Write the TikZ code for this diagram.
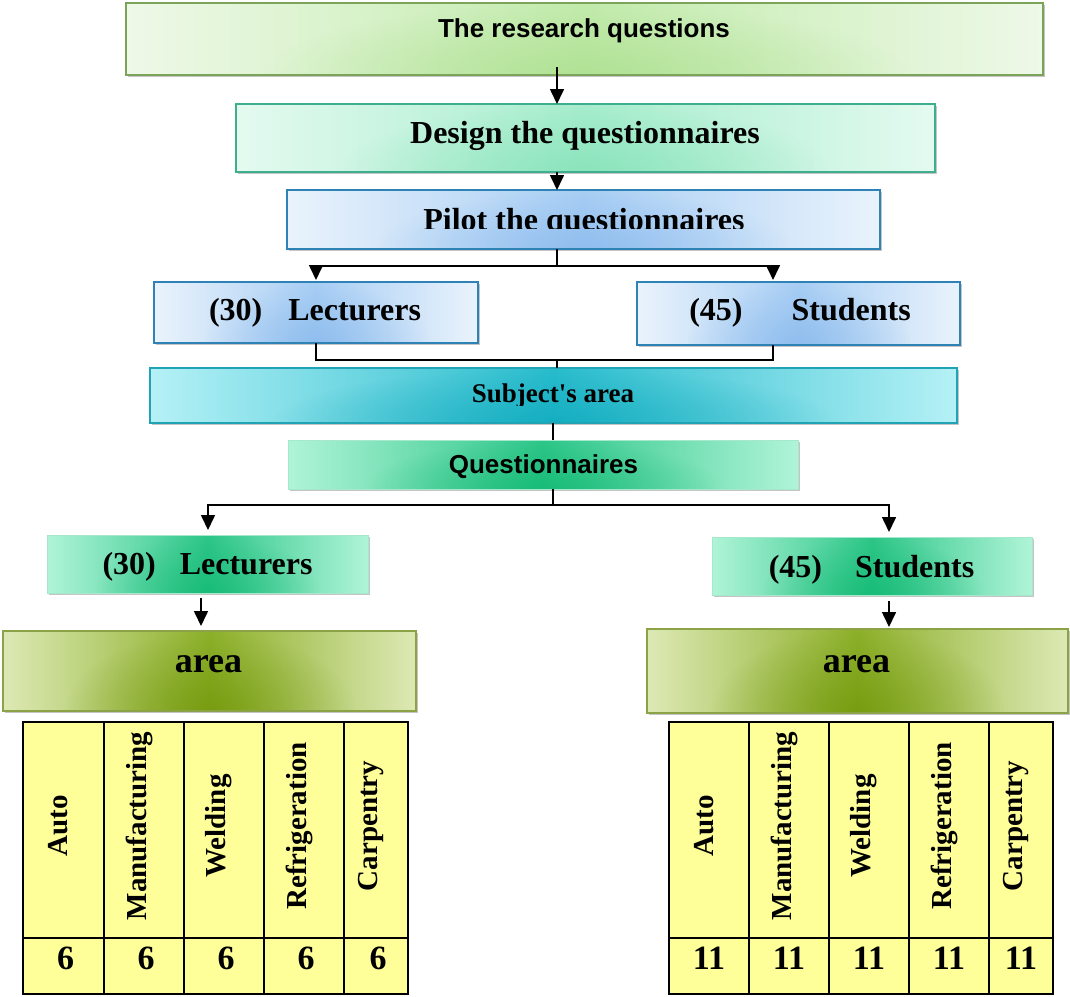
\documentclass[tikz,border=0pt]{standalone}
\usepackage{fontspec}
\setmainfont{Liberation Serif}
\newfontfamily\headsans{Liberation Sans}
\usetikzlibrary{arrows.meta,calc,fadings,shadows}

% panel colours
\definecolor{rqedge}{HTML}{EEF9E8}
\definecolor{rqmid}{HTML}{C2EBAC}
\definecolor{rqglow}{HTML}{A8DE8A}
\definecolor{rqborder}{HTML}{7BA45A}
\definecolor{dqedge}{HTML}{E4FAF0}
\definecolor{dqmid}{HTML}{A6EDCD}
\definecolor{dqglow}{HTML}{7EE0B4}
\definecolor{dqborder}{HTML}{3FAE8F}
\definecolor{blueedge}{HTML}{EAF3FC}
\definecolor{bluemid}{HTML}{A8CEF4}
\definecolor{blueglow}{HTML}{84B6EC}
\definecolor{blueborder}{HTML}{2F82B5}
\definecolor{saedge}{HTML}{B5F1F6}
\definecolor{samid}{HTML}{28BCCD}
\definecolor{saglow}{HTML}{0CA8BC}
\definecolor{saborder}{HTML}{1FA3B5}
\definecolor{gredge}{HTML}{B0F4D8}
\definecolor{grmid}{HTML}{2DC688}
\definecolor{grglow}{HTML}{10B872}
\definecolor{grborder}{HTML}{A6E8CC}
\definecolor{areaedge}{HTML}{DDE9B5}
\definecolor{areamid}{HTML}{8DB02A}
\definecolor{areaglow}{HTML}{6E9405}
\definecolor{areaborder}{HTML}{8BA346}
\definecolor{cellyellow}{HTML}{FFFF99}

% radial fade used for the darker glow at the foot of each panel
\tikzfading[name=footglow, inner color=transparent!30, outer color=transparent!100]

\begin{document}
\begin{tikzpicture}[x=1pt,y=-1pt,
  conn/.style={line width=1.6pt},
  arr/.style={conn,-{Triangle[width=14pt,length=15pt]}},
  glow/.style={path picture={
      \coordinate (ga) at ($(path picture bounding box.north west)!2!(path picture bounding box.south west)$);
      \coordinate (gb) at ($(path picture bounding box.north east)!2!(path picture bounding box.south east)$);
      \fill[#1, path fading=footglow]
        ($(ga)!0.15!(gb)$) rectangle ($(path picture bounding box.north west)!0.85!(path picture bounding box.north east)$);
  }},
  panel/.style={anchor=north west, inner sep=0pt, outer sep=0pt, line width=1.6pt,
    drop shadow={shadow xshift=1.5pt, shadow yshift=-1.5pt, fill=black!45, opacity=0.5}},
  rqpanel/.style={panel, draw=rqborder, left color=rqedge, right color=rqedge, middle color=rqmid, glow=rqglow},
  dqpanel/.style={panel, draw=dqborder, left color=dqedge, right color=dqedge, middle color=dqmid, glow=dqglow},
  bluepanel/.style={panel, draw=blueborder, left color=blueedge, right color=blueedge, middle color=bluemid, glow=blueglow},
  sapanel/.style={panel, draw=saborder, left color=saedge, right color=saedge, middle color=samid, glow=saglow},
  grpanel/.style={panel, draw=grborder, line width=0.8pt, left color=gredge, right color=gredge, middle color=grmid, glow=grglow},
  areapanel/.style={panel, draw=areaborder, left color=areaedge, right color=areaedge, middle color=areamid, glow=areaglow},
  lbl/.style={anchor=base, inner sep=0pt, font=\bfseries\fontsize{32}{36}\selectfont},
  sanslbl/.style={anchor=base, inner sep=0pt, font=\headsans\bfseries\fontsize{26}{30}\selectfont},
  cell/.style={draw=black, line width=2pt, fill=cellyellow, inner sep=0pt, outer sep=0pt, anchor=north west},
  colhead/.style={rotate=90, inner sep=0pt, font=\bfseries\fontsize{29}{32}\selectfont},
  numlbl/.style={anchor=base, inner sep=0pt, font=\bfseries\fontsize{34}{38}\selectfont},
]
\useasboundingbox (0,0) rectangle (1070,996);

% upper chain
\node[rqpanel, minimum width=917pt, minimum height=72pt] (rq) at (126,3) {};
\node[sanslbl] (rq-t) at (584,37) {The research questions};

\node[dqpanel, minimum width=699pt, minimum height=68pt] (dq) at (236,104) {};
\node[lbl] (dq-t) at (585,143) {Design the questionnaires};

\node[bluepanel, minimum width=593pt, minimum height=59pt] (pq) at (287,190) {};
\begin{scope}
  \clip (287,190) rectangle (880,228.5);
  \node[lbl] (pq-t) at (584,230) {Pilot the questionnaires};
\end{scope}

\node[bluepanel, minimum width=324pt, minimum height=61pt] (lb) at (154,282) {};
\node[lbl] (lb-t) at (315,320) {(30)\hspace{26pt}Lecturers};

\node[bluepanel, minimum width=323pt, minimum height=63pt] (sb) at (637,282) {};
\node[lbl] (sb-t) at (800,320) {(45)\hspace{49pt}Students};

\node[sapanel, minimum width=807pt, minimum height=55pt] (sa) at (150,368) {};
\begin{scope}
  \clip (150,368) rectangle (957,405);
  \node[lbl, font=\bfseries\fontsize{27}{30}\selectfont] (sa-t) at (553,402) {Subject\textquotesingle s area};
\end{scope}

\node[grpanel, minimum width=510pt, minimum height=49pt] (qn) at (288,440) {};
\node[sanslbl] (qn-t) at (543.5,473.5) {Questionnaires};

% lower branches
\node[grpanel, minimum width=321pt, minimum height=58pt] (lg) at (47,535) {};
\node[lbl] (lg-t) at (207.5,574) {(30)\hspace{24pt}Lecturers};

\node[grpanel, minimum width=320pt, minimum height=58pt] (sg) at (712,537) {};
\node[lbl] (sg-t) at (871.5,577) {(45)\hspace{33pt}Students};

\node[areapanel, minimum width=413pt, minimum height=80pt] (al) at (3,631) {};
\node[lbl, font=\bfseries\fontsize{36}{40}\selectfont] (al-t) at (208.5,672) {area};

\node[areapanel, minimum width=421pt, minimum height=84pt] (ar) at (647,629) {};
\node[lbl, font=\bfseries\fontsize{36}{40}\selectfont] (ar-t) at (856.5,672) {area};

% junction points
\coordinate (spine) at (557,0);
\coordinate (xs) at (773,0);
\coordinate (j1) at (557,266);
\coordinate (j2) at (557,360);
\coordinate (lspine) at (553,0);
\coordinate (j3) at (553,505);
\coordinate (xl) at (208,0);
\coordinate (xr) at (889,0);
\coordinate (xla) at (201,0);

% connectors
\draw[arr] ([yshift=8pt]rq.south -| spine) -- (dq.north -| spine);
\draw[arr] (dq.south -| spine) -- (pq.north -| spine);
\draw[conn] (pq.south -| spine) -- (j1);
\draw[arr, shorten >=2pt] (j1) -| (lb.north);
\draw[arr, shorten >=2pt] (j1) -| (sb.north -| xs);
\draw[conn] (lb.south) |- (j2) -| (sb.south -| xs);
\draw[conn] (j2) -- (sa.north -| spine);
\draw[conn] (sa.south -| lspine) -- (qn.north -| lspine);
\draw[conn] (qn.south -| lspine) -- (j3);
\draw[arr, shorten >=5pt] (j3) -| (lg.north -| xl);
\draw[arr, shorten >=5pt] (j3) -| (sg.north -| xr);
\draw[arr, shorten <=5pt, shorten >=5pt] (lg.south -| xla) -- (al.north -| xla);
\draw[arr, shorten <=6pt, shorten >=2pt] (sg.south -| xr) -- (ar.north -| xr);

% lecturers table
\foreach \i/\x/\w/\txt in {1/23/81/Auto, 2/104/80/Manufacturing, 3/184/80/Welding, 4/264/80/Refrigeration, 5/344/64/Carpentry} {
  \node[cell, minimum width=\w pt, minimum height=216pt] (lh\i) at (\x,722) {};
  \node[colhead] (lh\i-t) at ([xshift=-5pt,yshift=4pt]lh\i.center) {\txt};
  \node[cell, minimum width=\w pt, minimum height=56pt] (ln\i) at (\x,938) {};
  \node[numlbl] (ln\i-t) at ([xshift=2pt]ln\i.center |- 0,969) {6};
}

% students table
\foreach \i/\x/\w/\txt in {1/669/80/Auto, 2/749/80/Manufacturing, 3/829/80/Welding, 4/909/80/Refrigeration, 5/989/64/Carpentry} {
  \node[cell, minimum width=\w pt, minimum height=216pt] (sh\i) at (\x,722) {};
  \node[colhead] (sh\i-t) at ([xshift=-5pt,yshift=4pt]sh\i.center) {\txt};
  \node[cell, minimum width=\w pt, minimum height=56pt] (sn\i) at (\x,938) {};
  \node[numlbl] (sn\i-t) at (sn\i.center |- 0,969) {11};
}
\end{tikzpicture}
\end{document}
